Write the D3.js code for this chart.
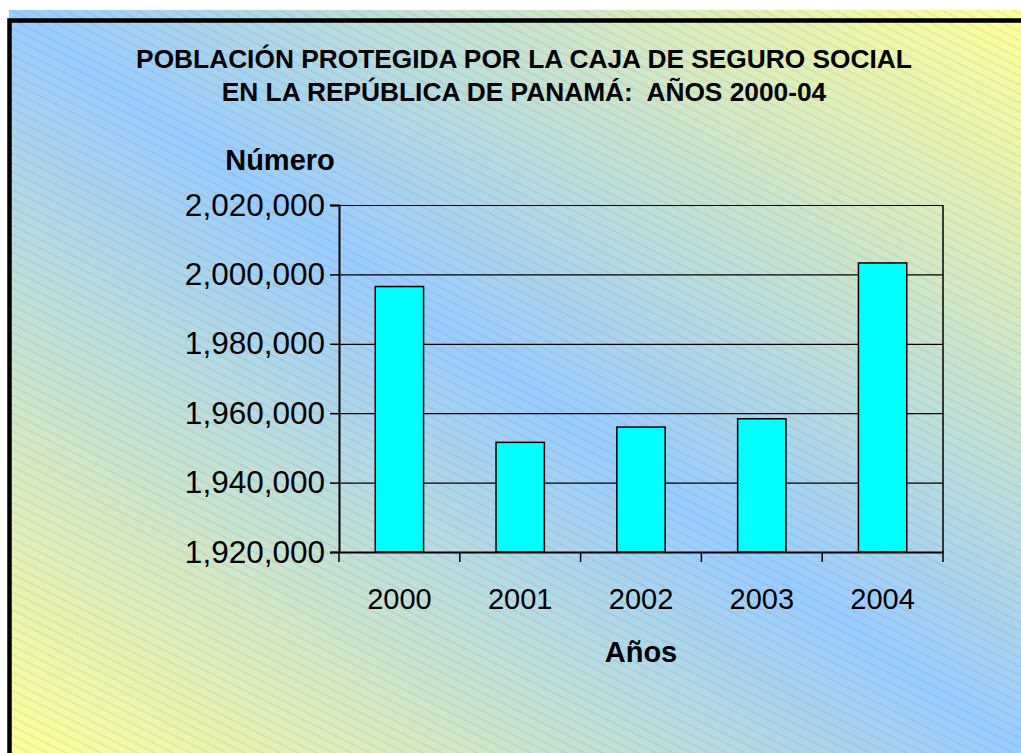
<!DOCTYPE html>
<html>
<head>
<meta charset="utf-8">
<script src="https://cdn.jsdelivr.net/npm/d3@7"></script>
<style>
  body { margin: 0; background: #fff; }
  svg text { font-family: Arial, "Liberation Sans", sans-serif; }
</style>
</head>
<body>
<div id="vis-svg"></div>
<script>
// data
var years = ["2000", "2001", "2002", "2003", "2004"];
var poblacion = [1996500, 1951600, 1956000, 1958400, 2003300];
var yTicks = [1920000, 1940000, 1960000, 1980000, 2000000, 2020000];
var titleLines = ["POBLACIÓN PROTEGIDA POR LA CAJA DE SEGURO SOCIAL",
                  "EN LA REPÚBLICA DE PANAMÁ:  AÑOS 2000-04"];

var width = 1021;
var height = 753;

var svg = d3
.select("#vis-svg")
.append("svg")
.attr("width", width)
.attr("height", height);

var defs = svg.append("defs");

var grad = defs.append("linearGradient")
.attr("id", "bg")
.attr("x1", 0).attr("y1", 1)
.attr("x2", 1).attr("y2", 0);
grad.append("stop").attr("offset", "0").attr("stop-color", "#ffff99");
grad.append("stop").attr("offset", "0.5").attr("stop-color", "#99ccff");
grad.append("stop").attr("offset", "1").attr("stop-color", "#ffff99");

var hatch = defs.append("pattern")
.attr("id", "hatch")
.attr("patternUnits", "userSpaceOnUse")
.attr("width", 12)
.attr("height", 8)
.attr("patternTransform", "rotate(26.57)");
hatch.append("line")
.attr("x1", 0).attr("y1", 4)
.attr("x2", 12).attr("y2", 4)
.attr("stroke", "#555")
.attr("stroke-opacity", 0.5)
.attr("stroke-width", 0.7)
.attr("stroke-dasharray", "1.2,1.2");

// chart area background
svg.append("rect")
.attr("x", 9).attr("y", 10)
.attr("width", width - 9).attr("height", height - 10)
.attr("fill", "url(#bg)");
svg.append("rect")
.attr("x", 9).attr("y", 10)
.attr("width", width - 9).attr("height", height - 10)
.attr("fill", "url(#hatch)");

// frame (runs off the right and bottom edge)
svg.append("rect")
.attr("x", 9.5).attr("y", 20.5)
.attr("width", width + 20).attr("height", height + 20)
.attr("fill", "none")
.attr("stroke", "#000")
.attr("stroke-width", 4.5);

// title
svg.append("g")
.selectAll("text")
.data(titleLines)
.enter()
.append("text")
.attr("x", 524)
.attr("y", function(d, i) { return 68 + i * 33; })
.attr("text-anchor", "middle")
.attr("font-size", 26.3)
.attr("font-weight", "bold")
.style("white-space", "pre")
.text(function(d) { return d; });

var plot = { left: 339, right: 943, top: 205, bottom: 552 };

var x = d3.scaleBand()
.domain(years)
.range([plot.left, plot.right])
.paddingInner(0.6)
.paddingOuter(0.3);

var y = d3.scaleLinear()
.domain([yTicks[0], yTicks[yTicks.length - 1]])
.range([plot.bottom, plot.top]);

// gridlines
svg.append("g")
.attr("transform", "translate(" + plot.left + ",0)")
.call(d3.axisLeft(y).tickValues(yTicks).tickSize(-(plot.right - plot.left)).tickFormat(""))
.call(function(g) { g.select(".domain").remove(); })
.selectAll("line")
.attr("stroke", "#000")
.attr("stroke-width", 1.2);

// right border of plot
svg.append("line")
.attr("x1", plot.right).attr("x2", plot.right)
.attr("y1", plot.top).attr("y2", plot.bottom)
.attr("stroke", "#000")
.attr("stroke-width", 1.5);

// bars
svg.append("g")
.selectAll("rect")
.data(poblacion)
.enter()
.append("rect")
.attr("x", function(d, i) { return x(years[i]); })
.attr("y", function(d) { return y(d); })
.attr("width", x.bandwidth())
.attr("height", function(d) { return plot.bottom - y(d); })
.attr("fill", "#00ffff")
.attr("stroke", "#000")
.attr("stroke-width", 1.5);

// y axis
var yAxis = svg.append("g")
.attr("transform", "translate(" + plot.left + ",0)")
.call(d3.axisLeft(y).tickValues(yTicks).tickSize(9).tickPadding(5).tickFormat(d3.format(",")));
yAxis.select(".domain").attr("stroke", "#000").attr("stroke-width", 2);
yAxis.selectAll("line").attr("stroke", "#000").attr("stroke-width", 1.5);
yAxis.selectAll("text")
.attr("font-size", 31.5)
.attr("font-family", "Arial, 'Liberation Sans', sans-serif")
.attr("fill", "#000");

// x axis: labels under bars, ticks on category boundaries
var step = x.step();
var xAxis = svg.append("g")
.attr("transform", "translate(0," + plot.bottom + ")")
.call(d3.axisBottom(x).tickSize(0).tickPadding(57));
xAxis.select(".domain").attr("stroke", "#000").attr("stroke-width", 2);
xAxis.selectAll("text")
.attr("font-size", 29)
.attr("font-family", "Arial, 'Liberation Sans', sans-serif")
.attr("fill", "#000")
.attr("dy", 0);

var bounds = years.map(function(d) { return x(d) + x.bandwidth() / 2 - step / 2; });
bounds.push(plot.right);
xAxis.selectAll(".bound")
.data(bounds)
.enter()
.append("line")
.attr("class", "bound")
.attr("x1", function(d) { return d; })
.attr("x2", function(d) { return d; })
.attr("y1", 0)
.attr("y2", 10)
.attr("stroke", "#000")
.attr("stroke-width", 1.5);

// axis titles
svg.append("text")
.attr("x", 280)
.attr("y", 170)
.attr("text-anchor", "middle")
.attr("font-size", 29)
.attr("font-weight", "bold")
.text("Número");

svg.append("text")
.attr("x", 641)
.attr("y", 662)
.attr("text-anchor", "middle")
.attr("font-size", 29)
.attr("font-weight", "bold")
.text("Años");
</script>
</body>
</html>
